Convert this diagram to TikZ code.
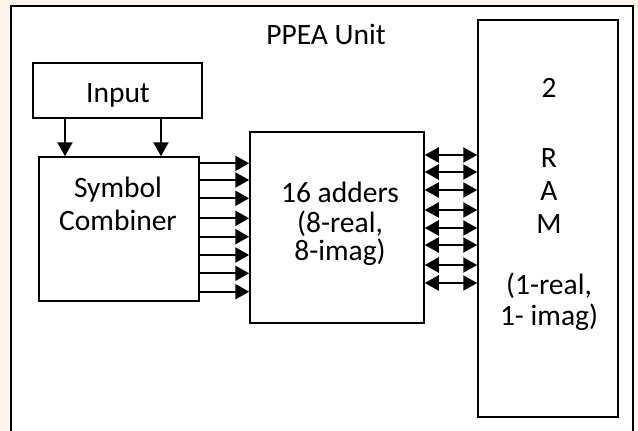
\documentclass[tikz,border=0pt]{standalone}
\usepackage{fontspec}
\setmainfont{Carlito}
\usetikzlibrary{arrows.meta}
\begin{document}
\begin{tikzpicture}[x=1pt,y=-1pt,
  box/.style={draw=black,line width=1.5pt,fill=white,inner sep=0pt},
  lbl/.style={anchor=base,inner sep=0pt,font=\fontsize{29.5}{35}\selectfont},
  arr/.style={line width=2.2pt,-{Triangle[length=14pt,width=15pt]}},
  darr/.style={line width=2.2pt,{Triangle[length=14pt,width=15pt]}-{Triangle[length=14pt,width=15pt]}}]
\useasboundingbox (0,0) rectangle (638,431);
\fill[orange!8] (0,0) rectangle (638,431);
\node[draw=black,line width=2pt,fill=white,minimum width=622pt,minimum height=426pt,inner sep=0pt] (frame) at (322,218.5) {};
\node[lbl] (title) at (326,45) {PPEA Unit};
% boxes
\node[box,minimum width=169pt,minimum height=55pt] (inp) at (117.5,90.5) {};
\node[box,minimum width=160pt,minimum height=144pt] (comb) at (119,229) {};
\node[box,minimum width=174pt,minimum height=191pt] (add) at (337,227.5) {};
\node[box,minimum width=140pt,minimum height=397pt] (ram) at (548,218.5) {};
% texts
\node[lbl] (tinp) at (118,102) {Input};
\node[lbl] (tc1) at (118,197) {Symbol};
\node[lbl] (tc2) at (118,230) {Combiner};
\node[lbl] (ta1) at (340,202) {16 adders};
\node[lbl] (ta2) at (340,232) {(8-real,};
\node[lbl] (ta3) at (340,260) {8-imag)};
\node[lbl] (tr1) at (549,97) {2};
\node[lbl] (tr2) at (549,167) {R};
\node[lbl] (tr3) at (549,200) {A};
\node[lbl] (tr4) at (549,233) {M};
\node[lbl] (tr5) at (549,294) {(1-real,};
\node[lbl] (tr6) at (549,325) {1- imag)};
% input arrows
\foreach \x in {65,161}
  \draw[arr] (inp.south -| \x,0) -- (comb.north -| \x,0);
% combiner to adders
\foreach \y in {163.3,180,198.3,218.3,236.7,255,273.3,291.7}
  \draw[arr] (comb.east |- 0,\y) -- (add.west |- 0,\y);
% adders <-> RAM
\foreach \y in {155,172,190,210,228,245,265,283}
  \draw[darr] (add.east |- 0,\y) -- (ram.west |- 0,\y);
\end{tikzpicture}
\end{document}
